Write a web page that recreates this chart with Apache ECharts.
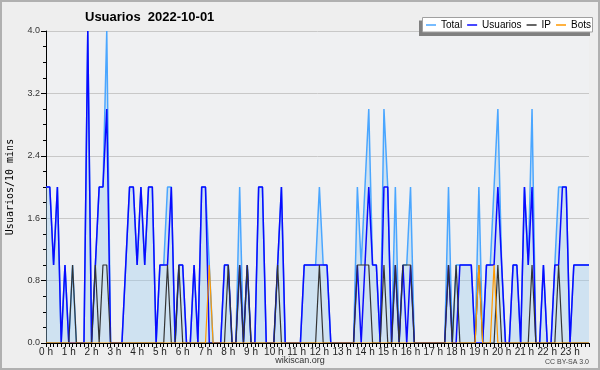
<!DOCTYPE html>
<html>
<head>
<meta charset="utf-8">
<script src="https://cdn.jsdelivr.net/npm/echarts@6.0.0/dist/echarts.min.js"></script>
<style>
html,body{margin:0;padding:0;background:#eeeeee;}
#chart{width:600px;height:370px;}
</style>
</head>
<body>
<div id="chart"></div>
<script>
// Tick labels for the hours
const hourLabels = ['0 h','1 h','2 h','3 h','4 h','5 h','6 h','7 h','8 h','9 h','10 h','11 h',
  '12 h','13 h','14 h','15 h','16 h','17 h','18 h','19 h','20 h','21 h','22 h','23 h'];

// 10-minute slots (categories)
const categories = [];
for (let h = 0; h < 24; h++) {
  for (let m = 0; m < 60; m += 10) {
    categories.push((h < 10 ? '0' : '') + h + ':' + (m < 10 ? '0' : '') + m);
  }
}

// Series values, one row per hour (6 slots of 10 minutes)
const totalValues = [
  2,2,1,2,0,1,  0,1,0,0,0,4,  0,1,2,2,4,0,  0,0,0,1,2,2,
  1,2,1,2,2,0,  1,1,2,2,0,1,  1,0,0,1,0,2,  2,1,0,0,0,1,
  1,0,0,2,0,1,  0,0,2,2,0,0,  0,1,2,0,0,0,  0,0,1,1,1,1,
  2,1,1,0,0,0,  0,0,0,0,2,1,  2,3,1,1,0,3,  2,0,2,0,1,1,
  2,0,0,0,0,0,  0,0,0,0,2,0,  1,1,1,1,1,0,  2,0,1,1,2,3,
  1,0,0,1,1,0,  2,1,3,0,0,1,  0,0,1,2,2,2,  0,1,1,1,1,1
];
const userValues = [
  2,2,1,2,0,1,  0,0,0,0,0,4,  0,1,2,2,3,0,  0,0,0,1,2,2,
  1,2,1,2,2,0,  1,1,1,2,0,1,  1,0,0,1,0,2,  2,0,0,0,0,1,
  1,0,0,1,0,1,  0,0,2,2,0,0,  0,1,2,0,0,0,  0,0,1,1,1,1,
  1,1,1,0,0,0,  0,0,0,0,1,0,  1,2,1,1,0,2,  2,0,1,0,1,0,
  1,0,0,0,0,0,  0,0,0,0,1,0,  0,1,1,1,1,0,  0,0,1,1,1,2,
  1,0,0,1,1,0,  2,1,2,0,0,1,  0,0,1,1,2,2,  0,1,1,1,1,1
];
const ipValues = [
  0,0,0,0,0,0,  0,1,0,0,0,0,  0,1,0,1,1,0,  0,0,0,0,0,0,
  0,0,0,0,0,0,  0,0,1,0,0,1,  0,0,0,0,0,0,  0,0,0,0,0,0,
  1,0,0,1,0,1,  0,0,0,0,0,0,  0,1,0,0,0,0,  0,0,0,0,0,0,
  1,0,0,0,0,0,  0,0,0,0,1,1,  1,1,0,0,0,1,  0,0,1,0,1,1,
  1,0,0,0,0,0,  0,0,0,0,1,0,  1,0,0,0,0,0,  1,0,0,0,0,1,
  0,0,0,0,0,0,  0,0,1,0,0,0,  0,0,0,1,0,0,  0,0,0,0,0,0
];
const botValues = [
  0,0,0,0,0,0,  0,0,0,0,0,0,  0,0,0,0,0,0,  0,0,0,0,0,0,
  0,0,0,0,0,0,  0,0,0,0,0,0,  0,0,0,0,0,0,  0,1,0,0,0,0,
  0,0,0,0,0,0,  0,0,0,0,0,0,  0,0,0,0,0,0,  0,0,0,0,0,0,
  0,0,0,0,0,0,  0,0,0,0,0,0,  0,0,0,0,0,0,  0,0,0,0,0,0,
  0,0,0,0,0,0,  0,0,0,0,0,0,  0,0,0,0,0,0,  1,0,0,0,1,0,
  0,0,0,0,0,0,  0,0,0,0,0,0,  0,0,0,0,0,0,  0,0,0,0,0,0
];
const seriesNames = ['Total', 'Usuarios', 'IP', 'Bots'];

const chart = echarts.init(document.getElementById('chart'), null, {renderer: 'canvas'});
const font = 'Liberation Sans, Arial, sans-serif';

chart.setOption({
  animation: false,
  backgroundColor: '#eeeeee',
  title: {
    text: 'Usuarios  2022-10-01',
    left: 85, top: 11, padding: 0,
    textStyle: {fontSize: 13, fontWeight: 'bold', fontFamily: font, color: '#000'}
  },
  legend: {
    data: seriesNames,
    left: 426, top: 18, padding: 0, z: 10,
    icon: 'rect',
    itemWidth: 10, itemHeight: 1.5, itemGap: 5,
    textStyle: {fontSize: 10, fontFamily: font, color: '#000', lineHeight: 14}
  },
  grid: {
    left: 46, right: 11, top: 31, bottom: 27,
    containLabel: false,
    outerBoundsMode: 'none',
    show: true, backgroundColor: '#eff0f2', borderWidth: 0
  },
  xAxis: {
    type: 'category',
    data: categories,
    boundaryGap: false,
    z: 5,
    axisLine: {lineStyle: {color: '#000', width: 1}},
    axisTick: {show: true, interval: 0, length: 4, lineStyle: {color: '#000'}},
    axisLabel: {
      interval: function (idx) { return idx % 6 === 0; },
      formatter: function (v, idx) { return hourLabels[Math.floor(idx / 6)]; },
      fontSize: 10, fontFamily: font, color: '#222', margin: 4,
      hideOverlap: false
    },
    splitLine: {show: false}
  },
  yAxis: {
    type: 'value',
    min: 0, max: 4, interval: 0.8,
    name: 'Usuarios/10 mins',
    nameLocation: 'middle', nameRotate: 90, nameGap: 31,
    nameTextStyle: {fontFamily: 'DejaVu Sans Mono', fontSize: 10, color: '#000'},
    axisLine: {show: true, lineStyle: {color: '#000', width: 1}},
    axisTick: {show: true, length: 5, lineStyle: {color: '#000'}},
    minorTick: {show: true, splitNumber: 4, length: 3, lineStyle: {color: '#000'}},
    axisLabel: {
      formatter: function (v) { return v.toFixed(1); },
      fontSize: 9, fontFamily: font, color: '#333', margin: 6
    },
    splitLine: {show: true, lineStyle: {color: '#c8c8c8', width: 1}}
  },
  series: [
    {
      name: 'Total', type: 'line', data: totalValues, symbol: 'none', z: 2,
      lineStyle: {color: '#4aa6ff', width: 1.5},
      itemStyle: {color: '#4aa6ff'},
      areaStyle: {color: 'rgba(155,204,240,0.55)'}
    },
    {
      name: 'Usuarios', type: 'line', data: userValues, symbol: 'none', z: 3,
      lineStyle: {color: '#0a0aff', width: 1.5},
      itemStyle: {color: '#0a0aff'}
    },
    {
      name: 'IP', type: 'line', data: ipValues, symbol: 'none', z: 4,
      lineStyle: {color: '#333333', width: 1.2},
      itemStyle: {color: '#333333'}
    },
    {
      name: 'Bots', type: 'line', data: botValues, symbol: 'none', z: 4,
      lineStyle: {color: '#ff9900', width: 1.2},
      itemStyle: {color: '#ff9900'}
    }
  ],
  graphic: [
    {type: 'rect', z: 1, shape: {x: 419, y: 20.5, width: 171, height: 15.5}, style: {fill: '#808080'}},
    {type: 'rect', z: 2, shape: {x: 422.5, y: 17.5, width: 170, height: 14.5}, style: {fill: '#ffffff', stroke: '#a0a0a0', lineWidth: 1}},
    {type: 'text', z: 10, style: {x: 300, y: 361, text: 'wikiscan.org', font: '9px Liberation Sans, Arial, sans-serif', fill: '#333', align: 'center', verticalAlign: 'middle'}},
    {type: 'text', z: 10, style: {x: 589, y: 362, text: 'CC BY-SA 3.0', font: '7px Liberation Sans, Arial, sans-serif', fill: '#444', align: 'right', verticalAlign: 'middle'}},
    {type: 'rect', z: 100, shape: {x: 1, y: 1, width: 598, height: 368}, style: {fill: 'none', stroke: '#b0b0b0', lineWidth: 2}}
  ]
});
</script>
</body>
</html>
